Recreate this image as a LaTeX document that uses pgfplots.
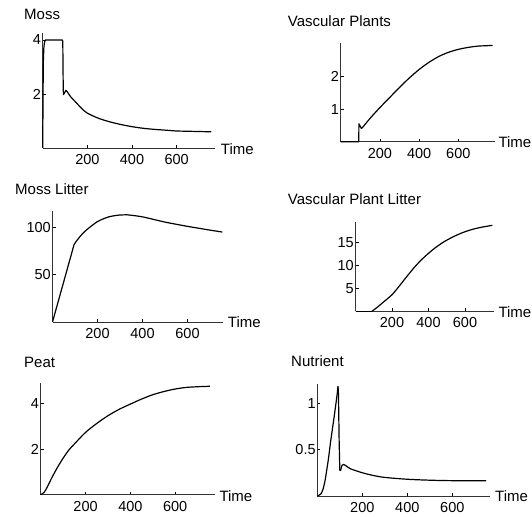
\documentclass[border=0pt]{standalone}
\usepackage{fontspec}
\setmainfont{Liberation Sans}
\usepackage{pgfplots}
\pgfplotsset{compat=1.18}

\pgfplotsset{
  mma/.style={
    scale only axis,
    axis lines=left,
    axis line style={-, line width=0.6pt, black!80},
    tick align=inside,
    major tick length=3pt,
    tick style={line width=0.5pt, black},
    xtick={200,400,600},
    xmin=0, ymin=0,
    clip=false,
    anchor=south west,
    every tick label/.append style={font=\fontsize{14.5}{16}\selectfont},
    /pgf/number format/assume math mode=true,
    xticklabel style={yshift=-3pt},
    yticklabel style={inner sep=1.5pt},
    every axis plot post/.append style={black, line width=1.2pt, line join=round, mark=none},
  }
}

\begin{document}
\begin{tikzpicture}[x=1pt,y=1pt]
\useasboundingbox (0,0) rectangle (532,516);

% Moss
\begin{axis}[mma, at={(42.7pt,368pt)}, width=171.9pt, height=114.75pt,
  xmax=770, ymax=4.25, ytick={2,4}]
\addplot coordinates {
 (0,0) (1,1.2) (2,2.4) (3,3.2) (5,3.7) (8,3.92) (12,4.0) (88,4.0) (90,3.95)
 (91,3.0) (92,2.2) (93,1.98) (97,2.03) (104,2.14)
};
\addplot[smooth] coordinates {
 (104,2.14) (112,2.06) (125,1.9)
 (150,1.68) (175,1.46) (200,1.29) (250,1.1) (300,0.97) (350,0.87) (400,0.79)
 (450,0.73) (500,0.69) (550,0.66) (600,0.63) (650,0.62) (700,0.61) (755,0.60)
};
\end{axis}

% Vascular Plants
\begin{axis}[mma, at={(340.7pt,374.3pt)}, width=153.9pt, height=98.5pt,
  xmax=785, ymax=3.03, ytick={1,2}]
\addplot coordinates {
 (0,0) (92,0) (93,0.55) (97,0.5) (105,0.42)
};
\addplot[smooth] coordinates {
 (105,0.42) (110,0.43) (150,0.72) (200,1.05)
 (250,1.36) (300,1.67) (350,1.96) (400,2.22) (450,2.44) (500,2.62) (550,2.75)
 (600,2.84) (650,2.9) (700,2.94) (775,2.96)
};
\end{axis}

% Moss Litter
\begin{axis}[mma, at={(52.5pt,194pt)}, width=171pt, height=110.8pt,
  xmax=760, ymax=117, ytick={50,100}]
\addplot coordinates {(0,0) (95,81)};
\addplot[smooth] coordinates {
 (95,81) (99,83) (125,91) (150,97) (200,106) (250,111) (300,113) (330,113.2)
 (400,111) (500,105.5) (600,101) (650,99) (700,97) (755,95)
};
\end{axis}

% Vascular Plant Litter
\begin{axis}[mma, at={(355.5pt,204.7pt)}, width=138.7pt, height=89.2pt,
  xmax=760, ymax=19.4, ytick={5,10,15}]
\addplot coordinates {(0,0) (90,0)};
\addplot[smooth] coordinates {
 (90,0) (120,0.9) (150,1.9) (200,3.6) (230,5) (280,7.5) (330,9.9)
 (380,11.9) (430,13.6) (480,15.0) (530,16.1) (580,17.0) (630,17.7)
 (680,18.2) (750,18.7)
};
\end{axis}

% Peat
\begin{axis}[mma, at={(40.7pt,21.3pt)}, width=174.2pt, height=111.4pt,
  xmax=777, ymax=4.88, ytick={2,4}]
\addplot[smooth] coordinates {
 (0,0) (15,0.1) (30,0.35) (50,0.75) (75,1.2) (100,1.6) (125,1.95) (150,2.22)
 (200,2.73) (250,3.12) (300,3.46) (350,3.74) (400,3.97) (450,4.19) (500,4.38)
 (550,4.52) (600,4.63) (650,4.70) (700,4.73) (755,4.75)
};
\end{axis}

% Nutrient
\begin{axis}[mma, at={(317.3pt,20pt)}, width=172.6pt, height=112.5pt,
  xmax=767, ymax=1.21, ytick={0.5,1}]
\addplot[smooth] coordinates {
 (0,0) (15,0.02) (25,0.07) (34,0.16) (42,0.28) (50,0.41) (60,0.6) (73,0.82)
 (82,0.98) (88,1.09) (92,1.18)
};
\addplot coordinates {(92,1.18) (94,1.1) (97,0.6) (100,0.28) (103,0.27)};
\addplot[smooth] coordinates {
 (103,0.27) (110,0.33) (117,0.34) (130,0.32) (150,0.29) (200,0.25) (250,0.22) (300,0.2)
 (400,0.18) (500,0.17) (600,0.165) (750,0.165)
};
\end{axis}

% titles and axis labels
\begin{scope}[every node/.style={anchor=west, inner sep=0pt, font=\fontsize{15}{18}\selectfont}]
\node at (24,501.7) {Moss};
\node at (287.7,495.3) {Vascular Plants};
\node at (15,326.8) {Moss Litter};
\node at (287.7,316.8) {Vascular Plant Litter};
\node at (24,154) {Peat};
\node at (291,154.8) {Nutrient};
\node at (220.7,366.5) {Time};
\node at (498.3,373.5) {Time};
\node at (227.7,194) {Time};
\node at (498.3,204) {Time};
\node at (219.3,20.3) {Time};
\node at (495,20) {Time};
\end{scope}
\end{tikzpicture}
\end{document}
